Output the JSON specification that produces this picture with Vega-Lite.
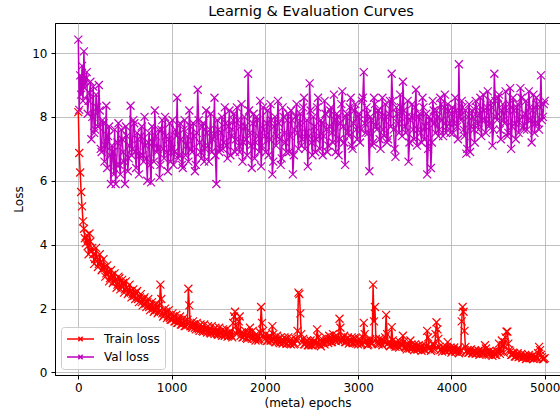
{
  "$schema": "https://vega.github.io/schema/vega-lite/v6.json",
  "width": 505,
  "height": 352,
  "autosize": {"type": "none"},
  "padding": {"left": 55, "top": 23, "right": 0, "bottom": 42},
  "background": "white",
  "title": {"text": "Learnig & Evaluation Curves", "font": "DejaVu Sans", "fontSize": 14.5, "fontWeight": "normal", "color": "black", "anchor": "middle", "offset": 4, "frame": "group", "dx": 3.5},
  "config": {
    "view": {"stroke": "black", "strokeWidth": 1},
    "axis": {"labelFont": "DejaVu Sans", "labelFontSize": 12, "labelColor": "black", "titleFont": "DejaVu Sans", "titleFontSize": 12, "titleFontWeight": "normal", "titleColor": "black", "tickColor": "black", "tickSize": 4, "domainColor": "black", "gridColor": "#b0b0b0", "gridWidth": 0.8, "gridOpacity": 1}
  },
  "data": {"values": [
{"e":0,"t":8.15,"v":10.42},{"e":10,"t":6.87,"v":8.22},{"e":20,"t":6.26,"v":9.3},{"e":30,"t":5.65,"v":8.7},{"e":40,"t":5.2,"v":9.6},{"e":50,"t":4.73,"v":8.5},{"e":60,"t":4.5,"v":10.05},{"e":70,"t":4.2,"v":8.9},{"e":80,"t":4.05,"v":9.2},{"e":100,"t":3.95,"v":8.1},
{"e":120,"t":4.35,"v":8.75},{"e":140,"t":3.8,"v":7.3},{"e":160,"t":3.7,"v":8.95},{"e":180,"t":3.55,"v":7.6},{"e":200,"t":3.62,"v":8.3},{"e":220,"t":3.4,"v":9.0},{"e":240,"t":3.45,"v":7.0},{"e":260,"t":3.25,"v":7.9},{"e":280,"t":3.3,"v":6.6},{"e":300,"t":3.1,"v":8.35},
{"e":320,"t":3.15,"v":7.4},{"e":340,"t":2.95,"v":6.8},{"e":360,"t":3.05,"v":7.1},{"e":380,"t":2.85,"v":6.2},{"e":400,"t":2.9,"v":5.9},{"e":420,"t":2.75,"v":7.2},{"e":440,"t":2.95,"v":6.5},{"e":460,"t":2.7,"v":7.6},{"e":480,"t":2.8,"v":6.9},{"e":500,"t":2.6,"v":5.9},
{"e":520,"t":2.65,"v":7.4},{"e":540,"t":2.5,"v":6.7},{"e":560,"t":2.55,"v":8.35},{"e":580,"t":2.45,"v":7.0},{"e":600,"t":2.4,"v":7.8},{"e":620,"t":2.5,"v":6.4},{"e":640,"t":2.3,"v":7.3},{"e":660,"t":2.35,"v":6.8},{"e":680,"t":2.2,"v":7.7},{"e":700,"t":2.3,"v":6.6},
{"e":720,"t":2.15,"v":7.1},{"e":740,"t":2.2,"v":6.0},{"e":760,"t":2.05,"v":7.5},{"e":780,"t":2.1,"v":5.95},{"e":800,"t":2.0,"v":7.2},{"e":820,"t":1.95,"v":8.2},{"e":840,"t":2.05,"v":6.9},{"e":860,"t":1.9,"v":7.6},{"e":880,"t":2.75,"v":6.5},{"e":900,"t":1.85,"v":7.9},
{"e":920,"t":1.8,"v":6.7},{"e":940,"t":1.9,"v":7.4},{"e":960,"t":1.75,"v":6.3},{"e":980,"t":1.7,"v":7.8},{"e":1000,"t":1.65,"v":7.0},{"e":1020,"t":1.75,"v":6.5},{"e":1040,"t":1.6,"v":7.6},{"e":1060,"t":1.55,"v":8.6},{"e":1080,"t":1.65,"v":6.8},{"e":1100,"t":1.5,"v":7.3},
{"e":1120,"t":1.55,"v":6.4},{"e":1140,"t":1.45,"v":7.9},{"e":1160,"t":1.5,"v":7.1},{"e":1180,"t":2.62,"v":6.6},{"e":1200,"t":1.45,"v":7.7},{"e":1220,"t":1.4,"v":6.9},{"e":1240,"t":1.5,"v":7.4},{"e":1260,"t":1.35,"v":6.5},{"e":1280,"t":1.4,"v":8.85},{"e":1300,"t":1.3,"v":7.2},
{"e":1320,"t":1.38,"v":6.7},{"e":1340,"t":1.28,"v":7.8},{"e":1360,"t":1.35,"v":7.0},{"e":1380,"t":1.25,"v":7.5},{"e":1400,"t":1.32,"v":6.6},{"e":1420,"t":1.22,"v":8.1},{"e":1440,"t":1.3,"v":7.3},{"e":1460,"t":1.2,"v":8.6},{"e":1480,"t":1.28,"v":5.9},{"e":1500,"t":1.18,"v":7.6},
{"e":1520,"t":1.25,"v":7.0},{"e":1540,"t":1.15,"v":8.0},{"e":1560,"t":1.3,"v":7.2},{"e":1580,"t":1.2,"v":7.8},{"e":1600,"t":1.12,"v":6.7},{"e":1620,"t":1.25,"v":8.2},{"e":1640,"t":1.15,"v":7.4},{"e":1660,"t":1.55,"v":7.9},{"e":1680,"t":1.9,"v":6.9},{"e":1700,"t":1.2,"v":8.3},
{"e":1720,"t":1.6,"v":7.1},{"e":1740,"t":1.15,"v":7.7},{"e":1760,"t":1.1,"v":6.6},{"e":1780,"t":1.2,"v":8.0},{"e":1800,"t":1.08,"v":7.3},{"e":1820,"t":1.15,"v":9.35},{"e":1840,"t":1.4,"v":7.5},{"e":1860,"t":1.05,"v":6.4},{"e":1880,"t":1.12,"v":8.1},{"e":1900,"t":1.0,"v":7.2},
{"e":1920,"t":1.1,"v":7.9},{"e":1940,"t":1.05,"v":6.9},{"e":1960,"t":2.05,"v":6.45},{"e":1980,"t":1.3,"v":8.3},{"e":2000,"t":1.05,"v":7.4},{"e":2020,"t":0.98,"v":7.8},{"e":2040,"t":1.1,"v":6.8},{"e":2060,"t":1.0,"v":8.4},{"e":2080,"t":1.45,"v":6.2},{"e":2100,"t":1.05,"v":7.7},
{"e":2120,"t":0.95,"v":7.1},{"e":2140,"t":1.05,"v":8.5},{"e":2160,"t":0.92,"v":7.3},{"e":2180,"t":1.0,"v":6.7},{"e":2200,"t":0.95,"v":8.0},{"e":2220,"t":1.05,"v":7.2},{"e":2240,"t":0.9,"v":7.9},{"e":2260,"t":0.98,"v":6.9},{"e":2280,"t":0.88,"v":8.2},{"e":2300,"t":0.95,"v":6.2},
{"e":2320,"t":0.9,"v":7.6},{"e":2340,"t":1.0,"v":8.4},{"e":2360,"t":2.5,"v":7.0},{"e":2380,"t":1.85,"v":8.1},{"e":2400,"t":0.95,"v":7.3},{"e":2420,"t":0.88,"v":8.6},{"e":2440,"t":0.95,"v":7.5},{"e":2460,"t":0.85,"v":6.45},{"e":2480,"t":0.92,"v":9.05},{"e":2500,"t":0.85,"v":7.2},
{"e":2520,"t":0.95,"v":8.0},{"e":2540,"t":0.88,"v":6.9},{"e":2560,"t":1.35,"v":8.3},{"e":2580,"t":0.9,"v":7.4},{"e":2600,"t":0.82,"v":7.9},{"e":2620,"t":0.95,"v":6.8},{"e":2640,"t":0.88,"v":8.5},{"e":2660,"t":1.0,"v":7.6},{"e":2680,"t":0.92,"v":7.1},{"e":2700,"t":1.05,"v":8.2},
{"e":2720,"t":0.95,"v":7.5},{"e":2740,"t":1.1,"v":8.7},{"e":2760,"t":0.98,"v":6.9},{"e":2780,"t":1.05,"v":8.0},{"e":2800,"t":1.68,"v":7.3},{"e":2820,"t":1.0,"v":8.4},{"e":2840,"t":1.1,"v":7.7},{"e":2860,"t":0.95,"v":6.5},{"e":2880,"t":1.05,"v":8.1},{"e":2900,"t":0.9,"v":7.4},
{"e":2920,"t":1.0,"v":8.6},{"e":2940,"t":0.92,"v":7.0},{"e":2960,"t":1.08,"v":8.2},{"e":2980,"t":0.95,"v":7.6},{"e":3000,"t":0.88,"v":8.0},{"e":3020,"t":1.0,"v":7.2},{"e":3040,"t":0.9,"v":8.5},{"e":3060,"t":1.55,"v":9.4},{"e":3080,"t":0.95,"v":7.5},{"e":3100,"t":0.85,"v":8.1},
{"e":3120,"t":1.0,"v":6.3},{"e":3140,"t":0.9,"v":7.9},{"e":3160,"t":2.75,"v":7.2},{"e":3180,"t":2.05,"v":8.4},{"e":3200,"t":0.95,"v":7.6},{"e":3220,"t":0.88,"v":8.2},{"e":3240,"t":1.0,"v":7.0},{"e":3260,"t":0.85,"v":8.6},{"e":3280,"t":0.95,"v":7.4},{"e":3300,"t":1.8,"v":8.0},
{"e":3320,"t":0.9,"v":7.3},{"e":3340,"t":0.82,"v":8.5},{"e":3360,"t":1.42,"v":9.35},{"e":3380,"t":0.88,"v":7.6},{"e":3400,"t":0.8,"v":6.75},{"e":3420,"t":0.9,"v":8.1},{"e":3440,"t":0.78,"v":7.5},{"e":3460,"t":0.85,"v":8.3},{"e":3480,"t":1.15,"v":9.1},{"e":3500,"t":0.8,"v":7.7},
{"e":3520,"t":0.72,"v":8.0},{"e":3540,"t":0.82,"v":6.6},{"e":3560,"t":1.0,"v":7.9},{"e":3580,"t":0.75,"v":8.4},{"e":3600,"t":0.7,"v":7.3},{"e":3620,"t":0.8,"v":8.85},{"e":3640,"t":0.72,"v":7.6},{"e":3660,"t":0.78,"v":8.1},{"e":3680,"t":0.68,"v":7.2},{"e":3700,"t":0.75,"v":8.3},
{"e":3720,"t":0.7,"v":7.7},{"e":3740,"t":1.3,"v":6.2},{"e":3760,"t":0.75,"v":8.0},{"e":3780,"t":0.68,"v":6.4},{"e":3800,"t":0.9,"v":8.5},{"e":3820,"t":0.72,"v":7.8},{"e":3840,"t":1.57,"v":8.2},{"e":3860,"t":1.05,"v":7.4},{"e":3880,"t":0.7,"v":8.6},{"e":3900,"t":0.65,"v":7.9},
{"e":3920,"t":0.75,"v":8.3},{"e":3940,"t":0.68,"v":7.5},{"e":3960,"t":0.95,"v":8.4},{"e":3980,"t":0.7,"v":7.8},{"e":4000,"t":0.62,"v":8.1},{"e":4020,"t":0.72,"v":7.5},{"e":4040,"t":0.65,"v":8.6},{"e":4060,"t":0.7,"v":7.7},{"e":4080,"t":0.6,"v":9.65},{"e":4100,"t":0.7,"v":7.9},
{"e":4120,"t":2.05,"v":8.3},{"e":4140,"t":1.3,"v":7.4},{"e":4160,"t":0.65,"v":6.85},{"e":4180,"t":0.62,"v":8.0},{"e":4200,"t":0.7,"v":6.9},{"e":4220,"t":0.6,"v":8.2},{"e":4240,"t":0.65,"v":7.6},{"e":4260,"t":0.58,"v":8.5},{"e":4280,"t":0.62,"v":7.8},{"e":4300,"t":0.55,"v":8.1},
{"e":4320,"t":0.65,"v":7.4},{"e":4340,"t":0.58,"v":8.7},{"e":4360,"t":0.85,"v":7.9},{"e":4380,"t":0.62,"v":8.3},{"e":4400,"t":0.55,"v":7.7},{"e":4420,"t":0.6,"v":8.5},{"e":4440,"t":0.52,"v":7.1},{"e":4460,"t":0.6,"v":9.35},{"e":4480,"t":0.55,"v":8.0},{"e":4500,"t":0.65,"v":8.6},
{"e":4520,"t":0.58,"v":7.6},{"e":4540,"t":1.0,"v":8.2},{"e":4560,"t":0.62,"v":7.9},{"e":4580,"t":1.1,"v":8.8},{"e":4600,"t":1.28,"v":7.4},{"e":4620,"t":0.7,"v":8.4},{"e":4640,"t":0.55,"v":7.0},{"e":4660,"t":0.62,"v":8.6},{"e":4680,"t":0.5,"v":7.8},{"e":4700,"t":0.55,"v":8.3},
{"e":4720,"t":0.48,"v":7.5},{"e":4740,"t":0.52,"v":8.9},{"e":4760,"t":0.45,"v":8.0},{"e":4780,"t":0.5,"v":7.6},{"e":4800,"t":0.42,"v":8.5},{"e":4820,"t":0.48,"v":7.9},{"e":4840,"t":0.45,"v":8.3},{"e":4860,"t":0.5,"v":7.2},{"e":4880,"t":0.42,"v":8.7},{"e":4900,"t":0.48,"v":7.8},
{"e":4920,"t":0.45,"v":8.4},{"e":4940,"t":0.8,"v":7.6},{"e":4960,"t":0.55,"v":9.3},{"e":4980,"t":0.42,"v":8.0},{"e":5000,"t":0.45,"v":8.5},
{"e":90,"t":4.3,"v":9.4},{"e":110,"t":3.7,"v":8.5},{"e":130,"t":4.1,"v":9.1},{"e":150,"t":3.9,"v":8.0},{"e":170,"t":3.4,"v":7.5},{"e":190,"t":3.9,"v":8.7},{"e":210,"t":3.3,"v":7.7},{"e":230,"t":3.7,"v":8.2},{"e":250,"t":3.2,"v":6.9},{"e":270,"t":3.55,"v":7.8},
{"e":290,"t":3.0,"v":7.1},{"e":310,"t":3.35,"v":6.4},{"e":330,"t":2.85,"v":7.7},{"e":350,"t":3.2,"v":5.9},{"e":370,"t":2.8,"v":6.9},{"e":390,"t":3.1,"v":7.6},{"e":410,"t":2.65,"v":6.5},{"e":430,"t":3.0,"v":7.8},{"e":450,"t":2.6,"v":6.2},{"e":470,"t":2.9,"v":7.3},
{"e":490,"t":2.5,"v":6.6},{"e":510,"t":2.85,"v":7.7},{"e":530,"t":2.45,"v":6.3},{"e":550,"t":2.75,"v":7.1},{"e":570,"t":2.35,"v":6.8},{"e":590,"t":2.6,"v":7.9},{"e":610,"t":2.3,"v":6.9},{"e":630,"t":2.55,"v":7.5},{"e":650,"t":2.2,"v":6.2},{"e":670,"t":2.45,"v":7.4},
{"e":690,"t":2.1,"v":6.8},{"e":710,"t":2.35,"v":8.0},{"e":730,"t":2.05,"v":6.7},{"e":750,"t":2.3,"v":7.2},{"e":770,"t":1.95,"v":6.5},{"e":790,"t":2.2,"v":7.7},{"e":810,"t":1.9,"v":6.6},{"e":830,"t":2.15,"v":7.4},{"e":850,"t":1.85,"v":7.0},{"e":870,"t":2.1,"v":6.1},
{"e":890,"t":2.3,"v":7.6},{"e":910,"t":1.75,"v":7.0},{"e":930,"t":2.0,"v":8.0},{"e":950,"t":1.7,"v":6.9},{"e":970,"t":1.95,"v":7.3},{"e":990,"t":1.65,"v":6.6},{"e":1010,"t":1.85,"v":7.9},{"e":1030,"t":1.6,"v":6.9},{"e":1050,"t":1.8,"v":7.4},{"e":1070,"t":1.55,"v":6.7},
{"e":1090,"t":1.75,"v":7.8},{"e":1110,"t":1.5,"v":6.5},{"e":1130,"t":1.7,"v":7.6},{"e":1150,"t":1.45,"v":6.8},{"e":1170,"t":1.65,"v":7.4},{"e":1190,"t":2.1,"v":8.2},{"e":1210,"t":1.45,"v":7.0},{"e":1230,"t":1.6,"v":7.8},{"e":1250,"t":1.4,"v":6.3},{"e":1270,"t":1.55,"v":7.5},
{"e":1290,"t":1.35,"v":7.9},{"e":1310,"t":1.5,"v":6.9},{"e":1330,"t":1.3,"v":7.7},{"e":1350,"t":1.5,"v":6.6},{"e":1370,"t":1.3,"v":8.2},{"e":1390,"t":1.45,"v":7.1},{"e":1410,"t":1.25,"v":7.6},{"e":1430,"t":1.45,"v":6.9},{"e":1450,"t":1.25,"v":7.4},{"e":1470,"t":1.4,"v":6.8},
{"e":1490,"t":1.2,"v":7.9},{"e":1510,"t":1.4,"v":6.9},{"e":1530,"t":1.2,"v":7.5},{"e":1550,"t":1.35,"v":7.0},{"e":1570,"t":1.15,"v":8.3},{"e":1590,"t":1.35,"v":7.1},{"e":1610,"t":1.15,"v":7.7},{"e":1630,"t":1.3,"v":6.8},{"e":1650,"t":1.1,"v":7.6},{"e":1670,"t":1.75,"v":8.1},
{"e":1690,"t":1.45,"v":7.3},{"e":1710,"t":1.3,"v":7.9},{"e":1730,"t":1.75,"v":6.9},{"e":1750,"t":1.25,"v":8.4},{"e":1770,"t":1.1,"v":7.2},{"e":1790,"t":1.3,"v":7.7},{"e":1810,"t":1.05,"v":6.8},{"e":1830,"t":1.25,"v":8.2},{"e":1850,"t":1.1,"v":7.1},{"e":1870,"t":1.3,"v":7.8},
{"e":1890,"t":1.05,"v":6.7},{"e":1910,"t":1.2,"v":8.0},{"e":1930,"t":1.0,"v":7.4},{"e":1950,"t":1.25,"v":8.5},{"e":1970,"t":1.55,"v":7.1},{"e":1990,"t":1.1,"v":7.6},{"e":2010,"t":1.2,"v":6.9},{"e":2030,"t":1.0,"v":8.2},{"e":2050,"t":1.15,"v":7.3},{"e":2070,"t":1.0,"v":7.9},
{"e":2090,"t":1.2,"v":6.6},{"e":2110,"t":0.95,"v":8.0},{"e":2130,"t":1.15,"v":7.4},{"e":2150,"t":0.95,"v":7.8},{"e":2170,"t":1.1,"v":6.5},{"e":2190,"t":0.9,"v":8.3},{"e":2210,"t":1.1,"v":7.5},{"e":2230,"t":0.9,"v":6.9},{"e":2250,"t":1.1,"v":8.1},{"e":2270,"t":0.9,"v":7.4},
{"e":2290,"t":1.05,"v":7.9},{"e":2310,"t":0.88,"v":6.8},{"e":2330,"t":1.05,"v":8.0},{"e":2350,"t":1.3,"v":7.5},{"e":2370,"t":2.45,"v":7.8},{"e":2390,"t":1.2,"v":7.1},{"e":2410,"t":1.05,"v":8.3},{"e":2430,"t":0.88,"v":7.0},{"e":2450,"t":1.0,"v":7.9},{"e":2470,"t":0.85,"v":7.4},
{"e":2490,"t":1.0,"v":8.2},{"e":2510,"t":0.85,"v":6.8},{"e":2530,"t":1.0,"v":7.7},{"e":2550,"t":0.9,"v":7.3},{"e":2570,"t":1.1,"v":8.6},{"e":2590,"t":0.88,"v":7.0},{"e":2610,"t":1.05,"v":7.8},{"e":2630,"t":0.9,"v":7.4},{"e":2650,"t":1.1,"v":8.1},{"e":2670,"t":0.95,"v":6.9},
{"e":2690,"t":1.15,"v":7.7},{"e":2710,"t":0.95,"v":8.3},{"e":2730,"t":1.2,"v":7.2},{"e":2750,"t":1.0,"v":7.9},{"e":2770,"t":1.15,"v":8.1},{"e":2790,"t":1.0,"v":6.8},{"e":2810,"t":1.4,"v":7.8},{"e":2830,"t":1.0,"v":8.8},{"e":2850,"t":1.15,"v":7.2},{"e":2870,"t":0.95,"v":8.0},
{"e":2890,"t":1.1,"v":7.5},{"e":2910,"t":0.95,"v":8.3},{"e":2930,"t":1.1,"v":7.1},{"e":2950,"t":0.92,"v":7.8},{"e":2970,"t":1.05,"v":8.4},{"e":2990,"t":0.92,"v":7.3},{"e":3010,"t":1.05,"v":8.1},{"e":3030,"t":0.88,"v":7.6},{"e":3050,"t":1.1,"v":8.6},{"e":3070,"t":1.2,"v":7.8},
{"e":3090,"t":1.0,"v":8.3},{"e":3110,"t":0.88,"v":7.5},{"e":3130,"t":1.05,"v":8.0},{"e":3150,"t":0.9,"v":7.1},{"e":3170,"t":1.6,"v":8.6},{"e":3190,"t":1.05,"v":7.7},{"e":3210,"t":0.9,"v":8.2},{"e":3230,"t":1.05,"v":7.3},{"e":3250,"t":0.9,"v":8.0},{"e":3270,"t":1.0,"v":7.6},
{"e":3290,"t":1.1,"v":8.4},{"e":3310,"t":1.2,"v":7.2},{"e":3330,"t":0.95,"v":8.1},{"e":3350,"t":0.85,"v":7.7},{"e":3370,"t":1.0,"v":8.5},{"e":3390,"t":0.85,"v":7.0},{"e":3410,"t":0.95,"v":8.3},{"e":3430,"t":0.82,"v":7.8},{"e":3450,"t":0.95,"v":8.7},{"e":3470,"t":0.85,"v":7.4},
{"e":3490,"t":0.95,"v":8.2},{"e":3510,"t":0.78,"v":7.5},{"e":3530,"t":0.9,"v":8.5},{"e":3550,"t":0.75,"v":7.2},{"e":3570,"t":0.88,"v":8.0},{"e":3590,"t":0.78,"v":7.6},{"e":3610,"t":0.88,"v":8.3},{"e":3630,"t":0.72,"v":7.1},{"e":3650,"t":0.85,"v":8.0},{"e":3670,"t":0.75,"v":7.5},
{"e":3690,"t":0.85,"v":8.6},{"e":3710,"t":0.72,"v":7.3},{"e":3730,"t":0.82,"v":8.1},{"e":3750,"t":1.1,"v":7.0},{"e":3770,"t":0.8,"v":7.9},{"e":3790,"t":0.72,"v":7.2},{"e":3810,"t":0.85,"v":8.2},{"e":3830,"t":1.2,"v":7.5},{"e":3850,"t":1.35,"v":8.0},{"e":3870,"t":0.8,"v":7.6},
{"e":3890,"t":0.72,"v":8.4},{"e":3910,"t":0.8,"v":7.4},{"e":3930,"t":0.68,"v":8.7},{"e":3950,"t":0.8,"v":7.7},{"e":3970,"t":0.7,"v":8.2},{"e":3990,"t":0.78,"v":7.5},{"e":4010,"t":0.68,"v":8.3},{"e":4030,"t":0.78,"v":7.8},{"e":4050,"t":0.65,"v":8.2},{"e":4070,"t":0.75,"v":7.3},
{"e":4090,"t":0.65,"v":8.0},{"e":4110,"t":1.6,"v":8.5},{"e":4130,"t":1.9,"v":7.6},{"e":4150,"t":0.8,"v":8.2},{"e":4170,"t":0.7,"v":7.0},{"e":4190,"t":0.62,"v":8.4},{"e":4210,"t":0.72,"v":7.7},{"e":4230,"t":0.6,"v":8.0},{"e":4250,"t":0.7,"v":7.2},{"e":4270,"t":0.6,"v":8.3},
{"e":4290,"t":0.68,"v":7.6},{"e":4310,"t":0.58,"v":8.6},{"e":4330,"t":0.68,"v":7.9},{"e":4350,"t":0.6,"v":8.2},{"e":4370,"t":0.75,"v":7.5},{"e":4390,"t":0.6,"v":8.8},{"e":4410,"t":0.68,"v":7.8},{"e":4430,"t":0.55,"v":8.3},{"e":4450,"t":0.65,"v":7.6},{"e":4470,"t":0.55,"v":8.5},
{"e":4490,"t":0.65,"v":7.9},{"e":4510,"t":0.9,"v":8.7},{"e":4530,"t":0.65,"v":7.3},{"e":4550,"t":0.85,"v":8.4},{"e":4570,"t":0.95,"v":7.8},{"e":4590,"t":1.28,"v":8.2},{"e":4610,"t":0.9,"v":7.5},{"e":4630,"t":0.65,"v":8.9},{"e":4650,"t":0.55,"v":7.7},{"e":4670,"t":0.6,"v":8.2},
{"e":4690,"t":0.5,"v":7.3},{"e":4710,"t":0.6,"v":8.4},{"e":4730,"t":0.5,"v":7.9},{"e":4750,"t":0.58,"v":8.6},{"e":4770,"t":0.48,"v":7.7},{"e":4790,"t":0.55,"v":8.1},{"e":4810,"t":0.45,"v":7.6},{"e":4830,"t":0.55,"v":8.8},{"e":4850,"t":0.45,"v":7.9},{"e":4870,"t":0.52,"v":8.2},
{"e":4890,"t":0.45,"v":7.5},{"e":4910,"t":0.5,"v":8.6},{"e":4930,"t":0.6,"v":7.8},{"e":4950,"t":0.7,"v":8.3},{"e":4970,"t":0.48,"v":7.9},{"e":4990,"t":0.42,"v":8.4}
  ]},
  "transform": [{"fold": ["t", "v"], "as": ["series", "loss"]}],
  "encoding": {
    "x": {"field": "e", "type": "quantitative", "scale": {"domain": [-250, 5164], "nice": false, "zero": false}, "axis": {"values": [0, 1000, 2000, 3000, 4000, 5000], "format": "d", "title": "(meta) epochs", "labelPadding": 3, "titlePadding": 4, "labelFlush": false}},
    "y": {"field": "loss", "type": "quantitative", "scale": {"domain": [-0.08, 10.94], "nice": false, "zero": false}, "axis": {"values": [0, 2, 4, 6, 8, 10], "title": "Loss", "labelPadding": 4, "titlePadding": 6, "labelFlush": false}},
    "color": {"field": "series", "type": "nominal", "scale": {"domain": ["t", "v"], "range": ["#ff0000", "#bf00bf"]}}
  },
  "layer": [
    {
      "mark": {"type": "line", "strokeWidth": 1.5, "clip": true},
      "encoding": {
        "color": {"field": "series", "type": "nominal", "scale": {"domain": ["t", "v"], "range": ["#ff0000", "#bf00bf"]},
          "legend": {"orient": "none", "legendX": 6, "legendY": 304, "title": null, "labelExpr": "datum.label == 't' ? 'Train loss' : 'Val loss'", "labelFont": "DejaVu Sans", "labelFontSize": 12, "labelColor": "black", "symbolType": "M-1,0L1,0M-0.16,-0.16L0.16,0.16M-0.16,0.16L0.16,-0.16", "symbolSize": 729, "symbolStrokeWidth": 1.4, "symbolFillColor": "transparent", "clipHeight": 14, "rowPadding": 4, "labelOffset": 9, "padding": 5, "strokeColor": "#cccccc", "fillColor": "rgba(255,255,255,0.8)", "cornerRadius": 3}}
      }
    },
    {
      "mark": {"type": "point", "shape": "M-1,-1L1,1M-1,1L1,-1", "filled": false, "size": 64, "strokeWidth": 1.2, "opacity": 1, "clip": true},
      "encoding": {
        "color": {"field": "series", "type": "nominal", "legend": null}
      }
    }
  ]
}
